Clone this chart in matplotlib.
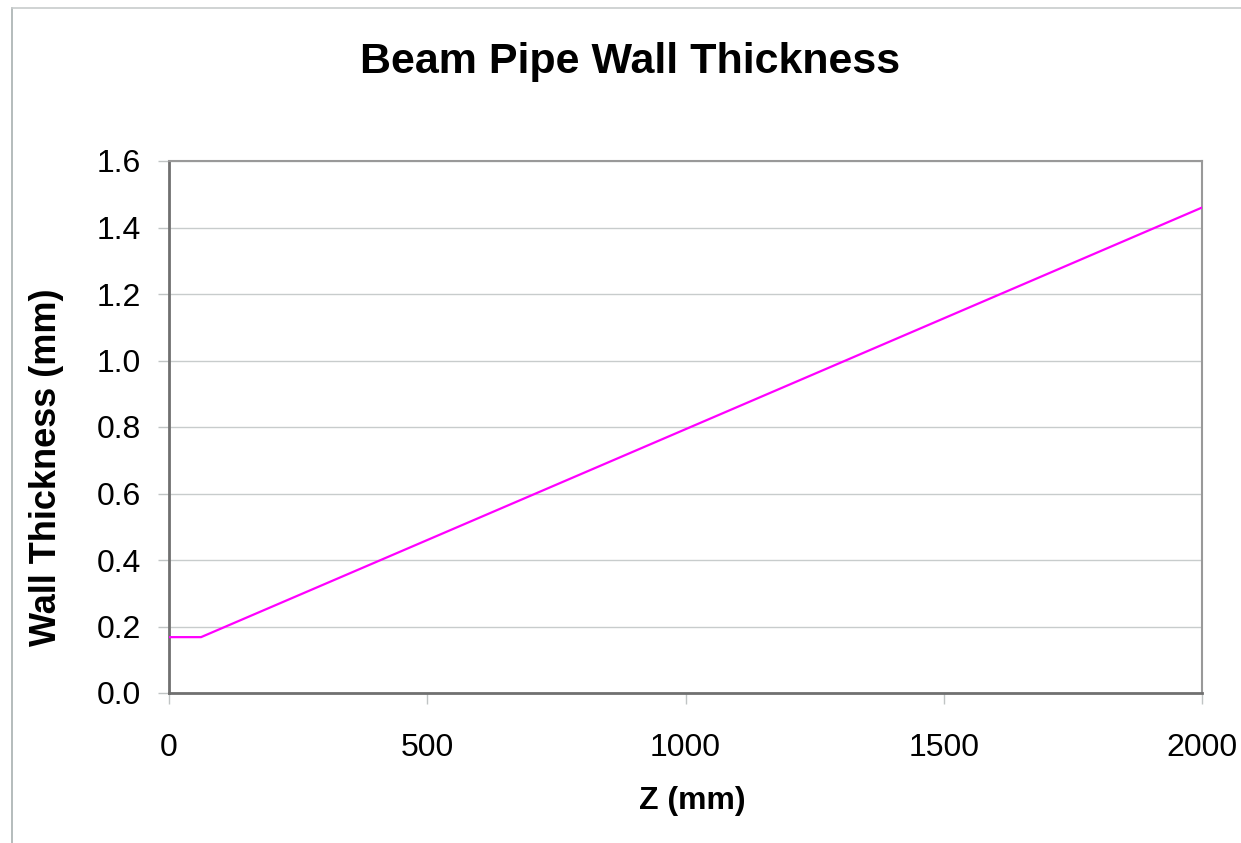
import matplotlib
matplotlib.use("Agg")
import matplotlib.pyplot as plt
from matplotlib.lines import Line2D

# data
z_mm = [0, 62, 2000]
thickness_mm = [0.168, 0.168, 1.46]

x_ticks = [0, 500, 1000, 1500, 2000]
y_ticks = [0.0, 0.2, 0.4, 0.6, 0.8, 1.0, 1.2, 1.4, 1.6]

plt.rcParams['font.family'] = ['Liberation Sans', 'DejaVu Sans']

fig = plt.figure(figsize=(12.41, 8.43), dpi=100)
ax = fig.add_axes([169 / 1241, 1 - 693 / 843, (1202 - 169) / 1241, (693 - 161) / 843])

ax.plot(z_mm, thickness_mm, color='#ff00ff', lw=1.6, zorder=3)

ax.set_xlim(0, 2000)
ax.set_ylim(0, 1.6)
ax.set_xticks(x_ticks)
ax.set_yticks(y_ticks)
ax.set_yticklabels([f"{v:.1f}" for v in y_ticks])
ax.yaxis.grid(True, color='#c8cccc', lw=1.0)
ax.set_axisbelow(True)

ax.tick_params(axis='both', direction='out', length=8, width=1, color='#c0c4c4',
               labelsize=23)
ax.tick_params(axis='y', pad=12)
ax.tick_params(axis='x', pad=21)

ax.spines['left'].set_color('#707070')
ax.spines['bottom'].set_color('#707070')
ax.spines['left'].set_linewidth(2)
ax.spines['bottom'].set_linewidth(2)
ax.spines['top'].set_color('#999999')
ax.spines['right'].set_color('#999999')
ax.spines['top'].set_linewidth(1.5)
ax.spines['right'].set_linewidth(1.5)

ax.set_xlabel('Z (mm)', fontsize=23, fontweight='bold', labelpad=18)
ax.xaxis.set_label_coords(0.507, -0.175)
ax.xaxis.label.set_va('top')
ax.set_ylabel('Wall Thickness (mm)', fontsize=26, fontweight='bold')
ax.yaxis.set_label_coords(-0.102, 0.425)
fig.text(630 / 1241, 1 - 62 / 843, 'Beam Pipe Wall Thickness', ha='center', va='center',
         fontsize=31, fontweight='bold')

# outer chart frame (left and top edges)
fig.add_artist(Line2D([12 / 1241, 12 / 1241], [0, 1 - 8 / 843], transform=fig.transFigure,
                      color='#a8b0b0', lw=1.2))
fig.add_artist(Line2D([12 / 1241, 1], [1 - 8 / 843, 1 - 8 / 843], transform=fig.transFigure,
                      color='#c8cccc', lw=1.2))

fig.savefig('out.png', dpi=100)
